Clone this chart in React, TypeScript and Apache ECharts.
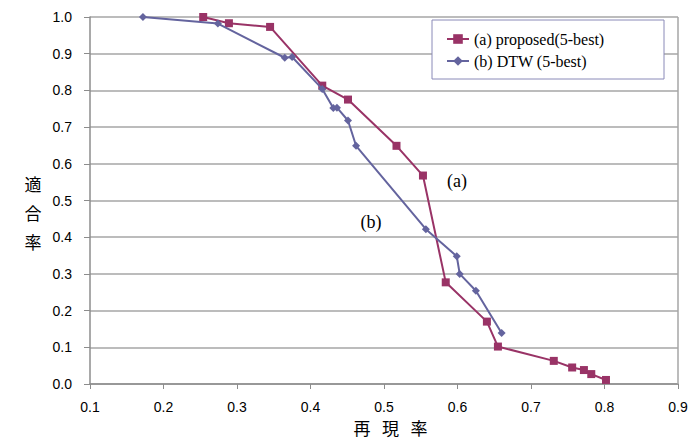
import React, { useEffect, useRef } from "react";
import * as echarts from "echarts";

const recallA = [0.254, 0.289, 0.345, 0.416, 0.451, 0.517, 0.553, 0.584, 0.640, 0.655, 0.731, 0.756, 0.772, 0.782, 0.802];
const precisionA = [1.0, 0.983, 0.973, 0.813, 0.775, 0.649, 0.568, 0.277, 0.170, 0.102, 0.063, 0.045, 0.038, 0.027, 0.011];
const recallB = [0.172, 0.274, 0.365, 0.375, 0.416, 0.431, 0.436, 0.451, 0.462, 0.557, 0.599, 0.603, 0.625, 0.660];
const precisionB = [1.0, 0.982, 0.889, 0.891, 0.804, 0.752, 0.753, 0.718, 0.649, 0.422, 0.348, 0.300, 0.254, 0.139];
const seriesNames = ["(a) proposed(5-best)", "(b) DTW (5-best)"];
const xTitleChars = ["再", "現", "率"];
const yTitle = "適\n合\n率";

export default function App() {
  const ref = useRef<HTMLDivElement>(null);
  useEffect(() => {
    if (!ref.current) return;
    const chart = echarts.init(ref.current, undefined, { renderer: "svg" });
    const colA = "#993366";
    const colB = "#64649e";
    const cjk = "Noto Sans CJK JP";
    chart.setOption({
      animation: false,
      backgroundColor: "#ffffff",
      grid: { left: 90, top: 17, right: 15, bottom: 62 },
      xAxis: {
        type: "value",
        min: 0.1,
        max: 0.9,
        interval: 0.1,
        axisLine: { show: true, lineStyle: { color: "#8c8c8c", width: 1.5 } },
        axisTick: { show: true, length: 5, lineStyle: { color: "#8c8c8c" } },
        axisLabel: {
          formatter: (v: number) => v.toFixed(1),
          fontFamily: "Liberation Sans",
          fontSize: 14,
          color: "#000",
          margin: 16,
        },
        splitLine: { show: false },
      },
      yAxis: {
        type: "value",
        min: 0,
        max: 1,
        interval: 0.1,
        axisLine: { show: true, lineStyle: { color: "#8c8c8c", width: 1.5 } },
        axisTick: { show: true, length: 6, lineStyle: { color: "#8c8c8c" } },
        axisLabel: {
          formatter: (v: number) => v.toFixed(1),
          fontFamily: "Liberation Sans",
          fontSize: 14,
          color: "#000",
          margin: 18,
        },
        splitLine: { show: true, lineStyle: { color: "#a6a6a6", width: 1.5 } },
      },
      legend: {
        orient: "vertical",
        left: 441,
        top: 26,
        z: 20,
        itemWidth: 22,
        itemHeight: 12,
        itemGap: 6,
        textStyle: { fontFamily: "Liberation Serif", fontSize: 16, color: "#000" },
        data: seriesNames,
      },
      graphic: [
        {
          type: "line",
          shape: { x1: 678, y1: 17, x2: 678, y2: 384 },
          style: { stroke: "#a6a6a6", lineWidth: 1.5 },
          z: 1,
        },
        {
          type: "rect",
          shape: { x: 432, y: 20, width: 232, height: 59 },
          style: { fill: "#ffffff", stroke: "#8a8ab8", lineWidth: 1 },
          z: 5,
        },
        {
          type: "text",
          x: 457,
          y: 181,
          style: { text: "(a)", fontFamily: "Liberation Serif", fontSize: 18, fill: "#000", align: "center", verticalAlign: "middle" },
          z: 10,
        },
        {
          type: "text",
          x: 371,
          y: 222,
          style: { text: "(b)", fontFamily: "Liberation Serif", fontSize: 18, fill: "#000", align: "center", verticalAlign: "middle" },
          z: 10,
        },
        {
          type: "text",
          x: 33,
          y: 212,
          style: {
            text: yTitle,
            fontFamily: cjk,
            fontSize: 17,
            lineHeight: 29,
            fill: "#000",
            align: "center",
            verticalAlign: "middle",
          },
          z: 10,
        },
        ...xTitleChars.map((ch, i) => ({
          type: "text",
          x: 362 + i * 28.5,
          y: 427,
          style: {
            text: ch,
            fontFamily: cjk,
            fontSize: 17,
            fill: "#000",
            align: "center",
            verticalAlign: "middle",
          },
          z: 10,
        })),
      ],
      series: [
        {
          name: seriesNames[0],
          type: "line",
          data: recallA.map((x, i) => [x, precisionA[i]]),
          symbol: "rect",
          symbolSize: 8,
          lineStyle: { color: colA, width: 2 },
          itemStyle: { color: colA },
          z: 3,
        },
        {
          name: seriesNames[1],
          type: "line",
          data: recallB.map((x, i) => [x, precisionB[i]]),
          symbol: "diamond",
          symbolSize: 8,
          lineStyle: { color: colB, width: 2 },
          itemStyle: { color: colB },
          z: 4,
        },
      ],
    });
    return () => chart.dispose();
  }, []);
  return <div ref={ref} style={{ position: "absolute", left: 0, top: 0, width: 693, height: 446 }} />;
}
